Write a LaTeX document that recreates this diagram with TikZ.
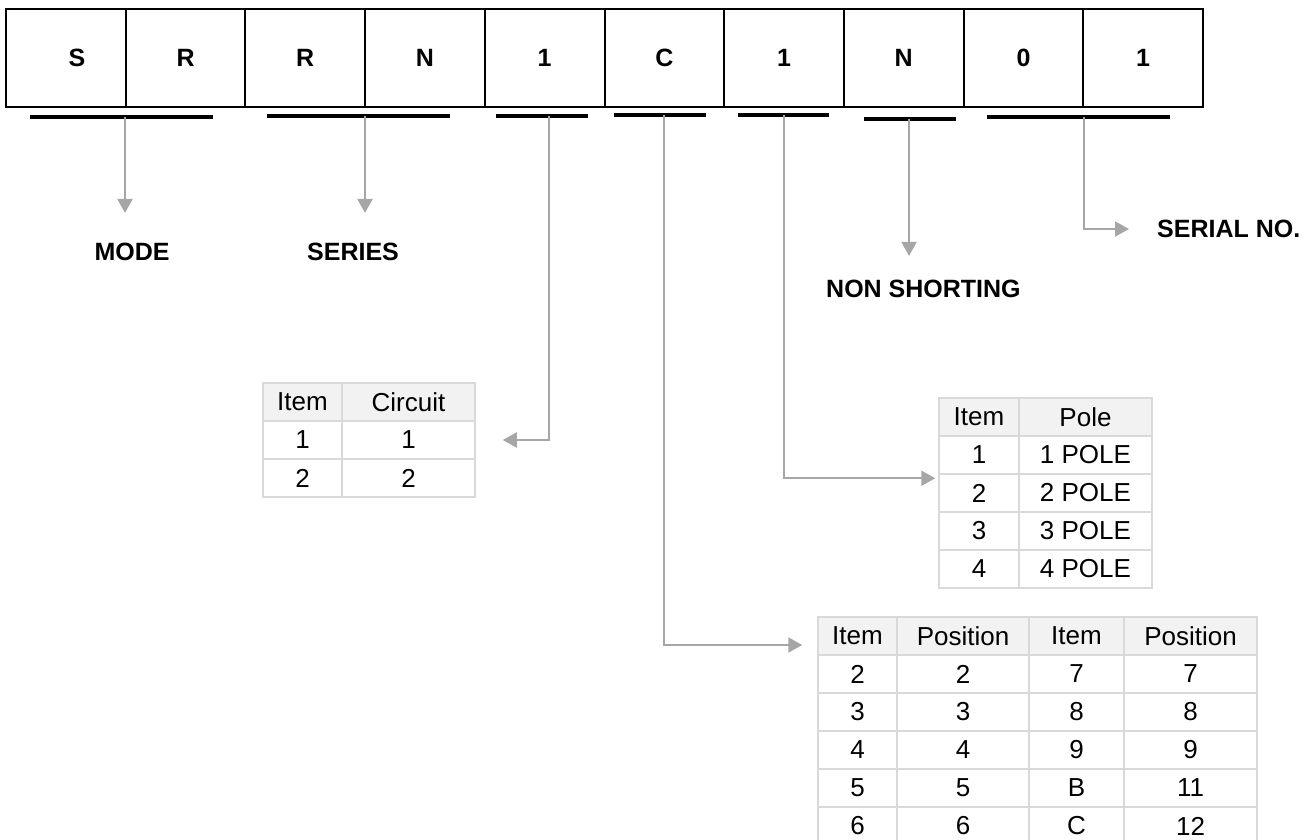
\documentclass[tikz,border=0pt]{standalone}
\usepackage{fontspec}
\setmainfont{Liberation Sans}
\usetikzlibrary{arrows.meta, positioning, calc}
\definecolor{LG}{RGB}{166,166,166}
\definecolor{GL}{RGB}{217,217,217}
\definecolor{HF}{RGB}{242,242,242}

\begin{document}
\begin{tikzpicture}[x=1pt, y=-1pt,
  cell/.style={draw, line width=2pt, minimum width=119.7pt, minimum height=98pt,
    inner sep=0pt, font=\fontsize{25}{30}\selectfont\bfseries},
  uline/.style={line width=4pt},
  pointer/.style={draw=LG, line width=2pt, -{Triangle[length=14pt,width=15pt]}},
  tag/.style={inner sep=0pt, font=\fontsize{25}{30}\selectfont\bfseries},
  tcell/.style={draw=GL, line width=1.5pt, minimum height=38pt, inner sep=0pt,
    font=\fontsize{26}{30}\selectfont}]
\useasboundingbox (0,0) rectangle (1311,839);

\foreach \ch [count=\i] in {\hspace*{22pt}S,R,R,N,1,C,1,N,0,1}
  \node[cell] (b\i) at ({6+119.7*(\i-0.5)},58) {\ch};

\foreach \l/\r/\y in {30/213/117, 267/450/116, 496/588/116, 614/706/115,
                     738/829/115, 864/956/119, 987/1170/117}
  \draw[uline] (\l,\y) -- (\r,\y);

\coordinate (mode-s) at (125,117);
\coordinate (series-s) at (365,116);
\coordinate (circ-s) at (549,116);
\coordinate (pos-s) at (664,115);
\coordinate (pole-s) at (784,115);
\coordinate (nons-s) at (909,119);
\coordinate (serial-s) at (1084,117);

\node[tag] (mode) at (132,252) {MODE};
\node[tag] (series) at (353,252) {SERIES};
\node[tag, anchor=west] (nons) at (826,289) {NON SHORTING};
\node[tag, anchor=west] (serial) at (1157,229) {SERIAL NO.};

\fill[HF] (263,383) rectangle (475,421);
\foreach \a/\b [count=\r] in {Item/Circuit,1/1,2/2} {
  \node[tcell, minimum width=79pt] (c\r1) at (302.5,{383+38*(\r-0.5)}) {\a};
  \node[tcell, minimum width=133pt] (c\r2) at (408.5,{383+38*(\r-0.5)}) {\b};
}

\fill[HF] (939,398) rectangle (1152,436);
\foreach \a/\b [count=\r] in {Item/Pole,1/1 POLE,2/2 POLE,3/3 POLE,4/4 POLE} {
  \node[tcell, minimum width=80pt] (q\r1) at (979,{398+38*(\r-0.5)}) {\a};
  \node[tcell, minimum width=133pt] (q\r2) at (1085.5,{398+38*(\r-0.5)}) {\b};
}

\fill[HF] (818,617) rectangle (1257,655);
\foreach \a/\b/\c/\d [count=\r] in {Item/Position/Item/Position,2/2/7/7,3/3/8/8,
                                     4/4/9/9,5/5/B/11,6/6/C/12} {
  \node[tcell, minimum width=79pt] (p\r1) at (857.5,{617+38*(\r-0.5)}) {\a};
  \node[tcell, minimum width=132pt] (p\r2) at (963,{617+38*(\r-0.5)}) {\b};
  \node[tcell, minimum width=95pt] (p\r3) at (1076.5,{617+38*(\r-0.5)}) {\c};
  \node[tcell, minimum width=133pt] (p\r4) at (1190.5,{617+38*(\r-0.5)}) {\d};
}

\draw[pointer, shorten >=30pt] (mode-s) -- (mode-s |- mode.north);
\draw[pointer, shorten >=30pt] (series-s) -- (series-s |- series.north);
\draw[pointer, shorten >=24pt] (nons-s) -- (nons-s |- nons.north);
\draw[pointer, shorten >=28pt] (serial-s) |- (serial.west);
\draw[pointer, shorten >=27pt] (circ-s) |- (c21.east -| c22.east);
\draw[pointer, shorten >=3pt] (pole-s) |- ([yshift=-5pt]q31.north west);
\draw[pointer, shorten >=15pt] (pos-s) |- ([yshift=-9pt]p11.west);
\end{tikzpicture}
\end{document}
